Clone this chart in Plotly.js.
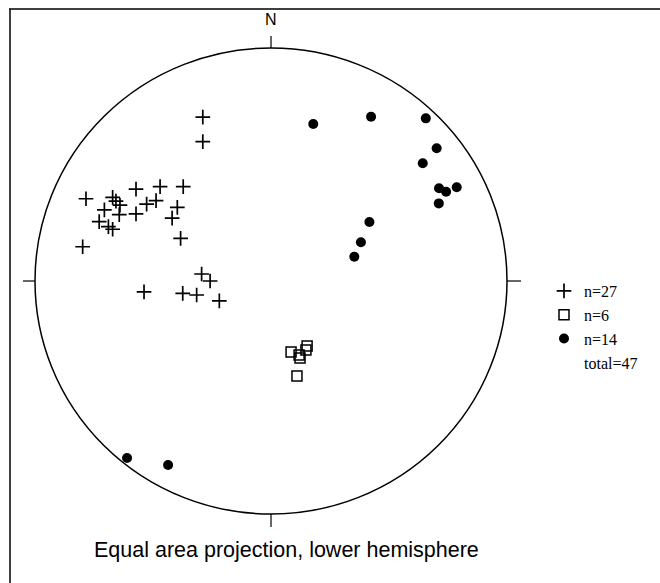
<!DOCTYPE html>
<html>
<head>
<meta charset="utf-8">
<script src="https://cdn.plot.ly/plotly-3.0.1.min.js"></script>
<style>html,body{margin:0;padding:0;background:#fff;}#chart{width:660px;height:583px;}</style>
</head>
<body>
<div id="chart"></div>
<script>
// Projected positions on the equal-area net (unit circle = primitive)
const crossX = [-0.289,-0.289,-0.572,-0.470,-0.372,-0.784,-0.671,-0.640,-0.706,-0.643,-0.572,-0.527,-0.487,-0.397,-0.419,-0.728,-0.689,-0.671,-0.383,-0.798,-0.294,-0.258,-0.538,-0.374,-0.315,-0.219,-0.657];
const crossY = [0.703,0.598,0.394,0.405,0.405,0.353,0.359,0.326,0.305,0.285,0.288,0.330,0.345,0.316,0.270,0.255,0.233,0.222,0.183,0.147,0.030,0.000,-0.047,-0.053,-0.060,-0.085,0.343];
const squareX = [0.085,0.119,0.123,0.153,0.148,0.110];
const squareY = [-0.305,-0.318,-0.330,-0.279,-0.296,-0.408];
const dotX = [0.179,0.424,0.656,0.702,0.643,0.712,0.742,0.787,0.711,0.417,0.381,0.353,-0.610,-0.436];
const dotY = [0.674,0.705,0.698,0.570,0.505,0.398,0.383,0.402,0.333,0.253,0.166,0.104,-0.760,-0.790];
const legendLabels = ["n=27","n=6","n=14","total=47"];
const northLabel = "N";
const caption = "Equal area projection, lower hemisphere";

const traces = [
  {x: crossX, y: crossY, mode: 'markers', name: legendLabels[0],
   marker: {symbol: 'cross-thin-open', size: 10.5, color: '#000', line: {color: '#000', width: 1.7}}},
  {x: squareX, y: squareY, mode: 'markers', name: legendLabels[1],
   marker: {symbol: 'square-open', size: 10, color: '#000', line: {color: '#000', width: 1.5}}},
  {x: dotX, y: dotY, mode: 'markers', name: legendLabels[2],
   marker: {symbol: 'circle', size: 10, color: '#000'}},
  {x: [null], y: [null], mode: 'markers', name: legendLabels[3],
   marker: {symbol: 'circle', size: 1, color: 'rgba(0,0,0,0)'}}
];

const W = 660, H = 583, cx = 271, cy = 281, rx = 236, ry = 233;
const xr = [-cx/rx, (W-cx)/rx];
const yr = [-(H-cy)/ry, cy/ry];

const ln = {color: '#000', width: 1.5};
const shapes = [
  {type: 'circle', xref: 'x', yref: 'y', x0: -1, x1: 1, y0: -1, y1: 1, line: ln},
  {type: 'line', xref: 'x', yref: 'y', x0: 0, x1: 0, y0: 1, y1: 1 + 12/ry, line: {color:'#000', width:1.2}},
  {type: 'line', xref: 'x', yref: 'y', x0: 0, x1: 0, y0: -1, y1: -1 - 13/ry, line: {color:'#000', width:1.2}},
  {type: 'line', xref: 'x', yref: 'y', x0: -1, x1: -1 - 12/rx, y0: 0, y1: 0, line: {color:'#000', width:1.2}},
  {type: 'line', xref: 'x', yref: 'y', x0: 1, x1: 1 + 14/rx, y0: 0, y1: 0, line: {color:'#000', width:1.2}},
  {type: 'line', xref: 'paper', yref: 'paper', x0: 9/W, x1: 1, y0: 1 - 9/H, y1: 1 - 9/H, line: {color:'#000', width:1.5}},
  {type: 'line', xref: 'paper', yref: 'paper', x0: 10/W, x1: 10/W, y0: 0, y1: 1 - 9/H, line: {color:'#000', width:1.5}}
];

const layout = {
  width: W, height: H,
  margin: {l: 0, r: 0, t: 0, b: 0},
  paper_bgcolor: '#fff', plot_bgcolor: '#fff',
  xaxis: {range: xr, visible: false, fixedrange: true},
  yaxis: {range: yr, visible: false, fixedrange: true},
  showlegend: true,
  legend: {x: 544/W, xanchor: 'left', y: 1 - 274/H, yanchor: 'top',
           font: {family: 'Liberation Serif, Times New Roman, serif', size: 16, color: '#000'},
           bgcolor: 'rgba(0,0,0,0)', borderwidth: 0, tracegroupgap: 0, itemsizing: 'trace'},
  shapes: shapes,
  annotations: [
    {x: 0, y: (cy - 19)/ry, xref: 'x', yref: 'y', text: northLabel, showarrow: false,
     font: {family: 'Liberation Sans, Arial, sans-serif', size: 16, color: '#000'}},
    {x: 286/W, y: 1 - 564/H, xref: 'paper', yref: 'paper', text: caption, showarrow: false,
     font: {family: 'Liberation Sans, Arial, sans-serif', size: 21.5, color: '#000'}}
  ]
};

Plotly.newPlot('chart', traces, layout, {staticPlot: true, displayModeBar: false});
</script>
</body>
</html>
